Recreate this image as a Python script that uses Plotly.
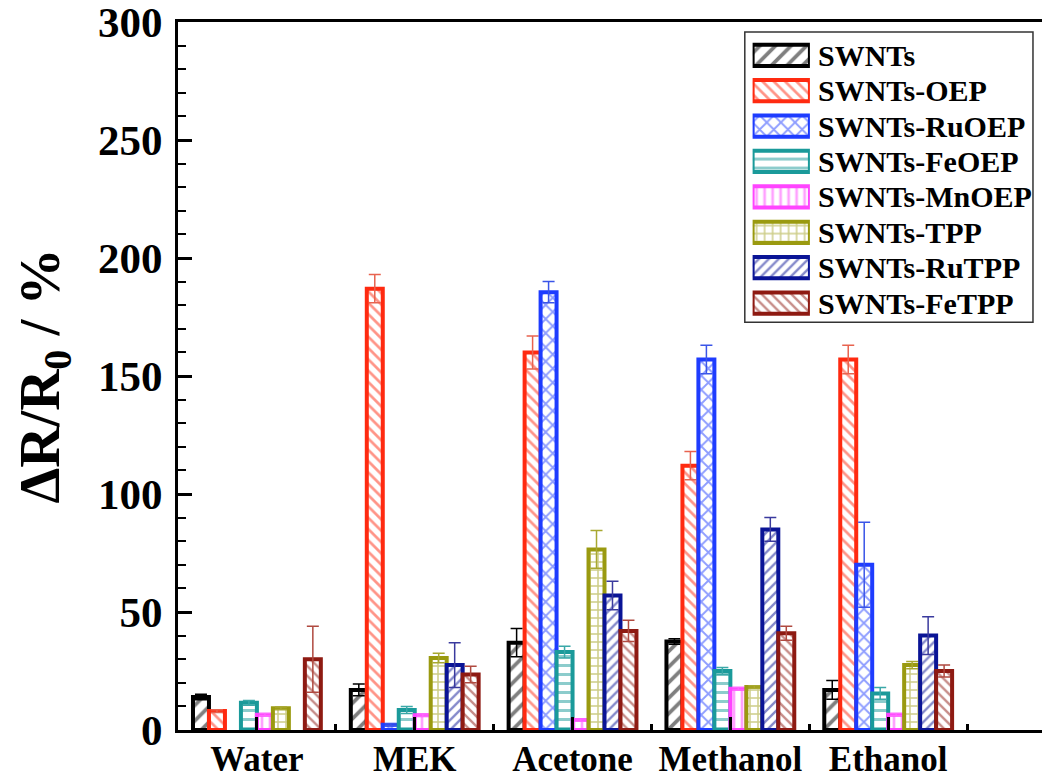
import plotly.graph_objects as go

# ---------------- data ----------------
categories = ["Water", "MEK", "Acetone", "Methanol", "Ethanol"]
series_names = ["SWNTs", "SWNTs-OEP", "SWNTs-RuOEP", "SWNTs-FeOEP",
                "SWNTs-MnOEP", "SWNTs-TPP", "SWNTs-RuTPP", "SWNTs-FeTPP"]

swnts       = [14.0, 17.0, 37.0, 37.5, 17.0]
swnts_oep   = [8.0, 187.0, 160.0, 112.0, 157.0]
swnts_ruoep = [None, 2.2, 185.5, 157.0, 70.0]
swnts_feoep = [11.5, 8.5, 33.0, 25.0, 15.5]
swnts_mnoep = [6.5, 6.3, 4.2, 17.5, 6.5]
swnts_tpp   = [9.2, 30.5, 76.5, 18.2, 27.5]
swnts_rutpp = [None, 27.5, 57.0, 85.0, 40.0]
swnts_fetpp = [30.0, 23.5, 42.0, 41.0, 25.0]

err_swnts       = [1.2, 2.5, 6.0, 1.2, 4.0]
err_swnts_oep   = [0.6, 6.0, 7.0, 6.0, 6.0]
err_swnts_ruoep = [0, 0.4, 4.5, 6.0, 18.0]
err_swnts_feoep = [1.0, 1.5, 2.5, 1.5, 2.5]
err_swnts_mnoep = [0.5, 0.5, 0.5, 0.5, 0.5]
err_swnts_tpp   = [0.5, 2.0, 8.0, 0.5, 1.5]
err_swnts_rutpp = [0, 9.5, 6.0, 5.0, 8.0]
err_swnts_fetpp = [14.0, 3.5, 4.5, 3.0, 2.5]

values = [swnts, swnts_oep, swnts_ruoep, swnts_feoep,
          swnts_mnoep, swnts_tpp, swnts_rutpp, swnts_fetpp]
errors = [err_swnts, err_swnts_oep, err_swnts_ruoep, err_swnts_feoep,
          err_swnts_mnoep, err_swnts_tpp, err_swnts_rutpp, err_swnts_fetpp]

y_title = "<b>ΔR/R<sub>0</sub> / %</b>"

# ---------------- style ----------------
colors = ["#000000", "#FF2A10", "#1E3CFF", "#1A9A9A",
          "#FF44FF", "#9A9A10", "#0A1496", "#8E1A12"]
err_colors = ["#000000", "#E8634F", "#3A55E8", "#3AA8A8",
              "#FF66FF", "#A8A830", "#3A3A9E", "#B04A40"]
shapes_pat = ["/", "\\", "x", "-", "|", "+", "/", "\\"]
sizes_pat = [11, 8, 10, 9, 8, 8, 7, 7]

FONT = "Liberation Serif, Times New Roman, serif"

fig = go.Figure()

x_pos = list(range(len(categories)))

for name, vals, errs, col, ecol, shp, sz in zip(series_names, values, errors, colors,
                                                err_colors, shapes_pat, sizes_pat):
    fig.add_trace(go.Bar(
        x=x_pos, y=vals, name=name, showlegend=False,
        marker=dict(color="white", line=dict(color=col, width=4),
                    pattern=dict(shape=shp, fgcolor=col, bgcolor="white",
                                 size=sz, solidity=0.34)),
        error_y=dict(type="data", array=errs, symmetric=True, visible=True,
                     color=ecol, thickness=1.5, width=6),
        xaxis="x", yaxis="y",
    ))

# legend drawn as an inset of patterned swatches
for name, col, shp, sz in zip(series_names, colors, shapes_pat, sizes_pat):
    fig.add_trace(go.Bar(
        y=[name], x=[1], orientation="h", showlegend=False, hoverinfo="skip",
        width=0.6, offset=-0.3,
        marker=dict(color="white", line=dict(color=col, width=4),
                    pattern=dict(shape=shp, fgcolor=col, bgcolor="white",
                                 size=sz, solidity=0.34)),
        xaxis="x2", yaxis="y2",
    ))

annotations = [dict(text=f"<b>{name}</b>", xref="x2 domain", x=1, xshift=6,
                    yref="y2", y=name, xanchor="left", yanchor="middle",
                    showarrow=False,
                    font=dict(family=FONT, size=30, color="black"))
               for name in series_names]

# the page body adds an 8px offset; the layout below compensates for it
fig.update_layout(
    width=1042, height=770,
    margin=dict(l=170, r=4, t=14, b=48, pad=0),
    paper_bgcolor="white", plot_bgcolor="white",
    barmode="group", bargap=0.19, bargroupgap=0,
    font=dict(family=FONT, color="black"),
    showlegend=False,
    xaxis=dict(
        domain=[0, 1], automargin=False,
        range=[-0.5, 5.0],
        tickvals=x_pos, ticktext=categories,
        tickfont=dict(family=FONT, size=35, weight="bold", color="black"),
        ticklabelstandoff=-4, ticklabeloverflow="allow",
        ticks="inside", ticklen=13, tickwidth=3, tickcolor="black",
        minor=dict(tick0=0.5, dtick=1, ticks="inside", ticklen=6,
                   tickwidth=3, tickcolor="black"),
        showline=True, linecolor="black", linewidth=3, mirror=True,
        showgrid=False, zeroline=False,
    ),
    yaxis=dict(
        domain=[0, 1], automargin=False,
        range=[0, 300],
        tickmode="linear", tick0=0, dtick=50,
        tickfont=dict(family=FONT, size=43, weight="bold", color="black"),
        ticklabelstandoff=4, ticklabeloverflow="allow",
        ticks="inside", ticklen=14, tickwidth=3, tickcolor="black",
        minor=dict(dtick=10, ticks="inside", ticklen=8, tickwidth=2,
                   tickcolor="black"),
        showline=True, linecolor="black", linewidth=3, mirror=True,
        showgrid=False, zeroline=False,
        title=dict(text=y_title,
                   font=dict(family=FONT, size=57, color="black"),
                   standoff=32),
    ),
    xaxis2=dict(
        domain=[0.662, 0.728], range=[0, 1], anchor="y2",
        visible=False, fixedrange=True,
    ),
    yaxis2=dict(
        domain=[0.578, 0.978], anchor="x2",
        type="category", categoryarray=series_names,
        range=[len(series_names) - 0.5, -0.5],
        visible=False, fixedrange=True,
    ),
    annotations=annotations,
    shapes=[dict(type="rect", xref="paper", yref="paper",
                 x0=0.653, x1=0.985, y0=0.576, y1=0.986,
                 line=dict(color="#333333", width=1.5), fillcolor="rgba(0,0,0,0)",
                 layer="below")],
)

fig.write_html("out.html")
